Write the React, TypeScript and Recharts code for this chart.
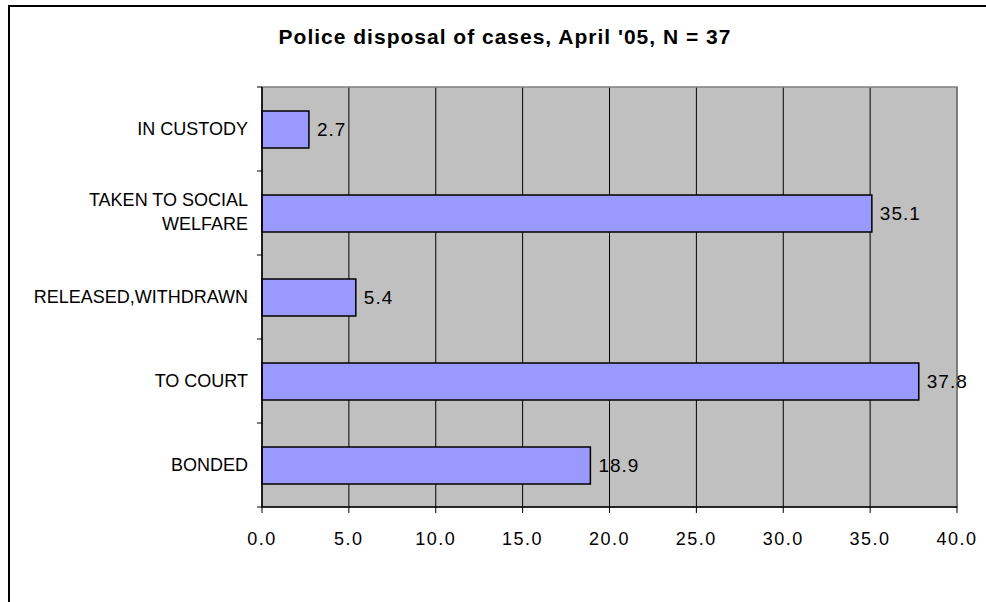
import {
  BarChart,
  Bar,
  XAxis,
  YAxis,
  CartesianGrid,
  LabelList,
  ReferenceArea,
} from "recharts";

const categories = [
  "IN CUSTODY",
  "TAKEN TO SOCIAL\nWELFARE",
  "RELEASED,WITHDRAWN",
  "TO COURT",
  "BONDED",
];
const percents = [2.7, 35.1, 5.4, 37.8, 18.9];
const xTicks = [0, 5, 10, 15, 20, 25, 30, 35, 40];

const data = categories.map((name, i) => ({ name, value: percents[i] }));

const FONT = '"Liberation Sans", Arial, sans-serif';
const Y_TICK_SIZE = 5;
const Y_TICK_MARGIN = 9;

// category labels, with tick marks between the bands like the old excel chart
function CategoryTick(props: any) {
  const { x, y, payload, index, visibleTicksCount } = props;
  const half = payload?.offset ?? 0;
  const x1 = x + Y_TICK_MARGIN;
  const x2 = x1 + Y_TICK_SIZE;
  const lines = String(payload.value).split("\n");
  const lh = 24;
  const y0 = y - ((lines.length - 1) * lh) / 2 - (lines.length - 1) * 1.5;
  return (
    <g>
      <line x1={x1} x2={x2} y1={y - half} y2={y - half} stroke="#000" />
      {index === visibleTicksCount - 1 && (
        <line x1={x1} x2={x2} y1={y + half} y2={y + half} stroke="#000" />
      )}
      <text
        x={x}
        y={y0}
        textAnchor="end"
        fontFamily={FONT}
        fontSize={18}
        fill="#000"
      >
        {lines.map((l, i) => (
          <tspan key={i} x={x} dy={i === 0 ? "0.36em" : lh}>
            {l}
          </tspan>
        ))}
      </text>
    </g>
  );
}

export default function App() {
  return (
    <div
      style={{
        position: "fixed",
        left: 0,
        top: 0,
        width: 986,
        height: 602,
        overflow: "hidden",
        background: "#fff",
      }}
    >
      <div
        style={{
          position: "absolute",
          left: 8,
          top: 5,
          width: 1100,
          height: 700,
          border: "2px solid #000",
        }}
      />
      <div
        style={{
          position: "absolute",
          left: 0,
          top: 25,
          width: 1010,
          textAlign: "center",
          fontFamily: FONT,
          fontWeight: "bold",
          fontSize: 21,
          letterSpacing: 1,
          lineHeight: "24px",
        }}
      >
        Police disposal of cases, April '05, N = 37
      </div>
      <div style={{ position: "absolute", left: 0, top: 0 }}>
        <BarChart
          width={986}
          height={602}
          data={data}
          layout="vertical"
          margin={{ top: 87, right: 29, bottom: 65, left: 0 }}
        >
          <CartesianGrid
            horizontal={false}
            stroke="#000"
            fill="#C0C0C0"
            fillOpacity={1}
          />
          <ReferenceArea
            x1={0}
            x2={40}
            fill="none"
            stroke="#808080"
            strokeWidth={1.5}
            ifOverflow="visible"
          />
          <XAxis
            type="number"
            domain={[0, 40]}
            ticks={xTicks}
            interval={0}
            tickFormatter={(v: number) => v.toFixed(1)}
            axisLine={{ stroke: "#000", strokeWidth: 1.5 }}
            tickLine={{ stroke: "#000" }}
            tickSize={6}
            tickMargin={19}
            tick={{
              fill: "#000",
              fontSize: 18,
              fontFamily: FONT,
              letterSpacing: 1.5,
            }}
          />
          <YAxis
            type="category"
            dataKey="name"
            width={262}
            interval={0}
            tickSize={Y_TICK_SIZE}
            tickMargin={Y_TICK_MARGIN}
            tickLine={false}
            axisLine={{ stroke: "#000", strokeWidth: 1.5 }}
            tick={<CategoryTick />}
          />
          <Bar
            dataKey="value"
            fill="#9999FF"
            stroke="#000"
            strokeWidth={1.5}
            barSize={37}
            isAnimationActive={false}
          >
            <LabelList
              dataKey="value"
              position="right"
              offset={8}
              formatter={(v: any) => Number(v).toFixed(1)}
              style={{
                fill: "#000",
                fontSize: 19,
                fontFamily: FONT,
                letterSpacing: 1,
              }}
            />
          </Bar>
        </BarChart>
      </div>
    </div>
  );
}
